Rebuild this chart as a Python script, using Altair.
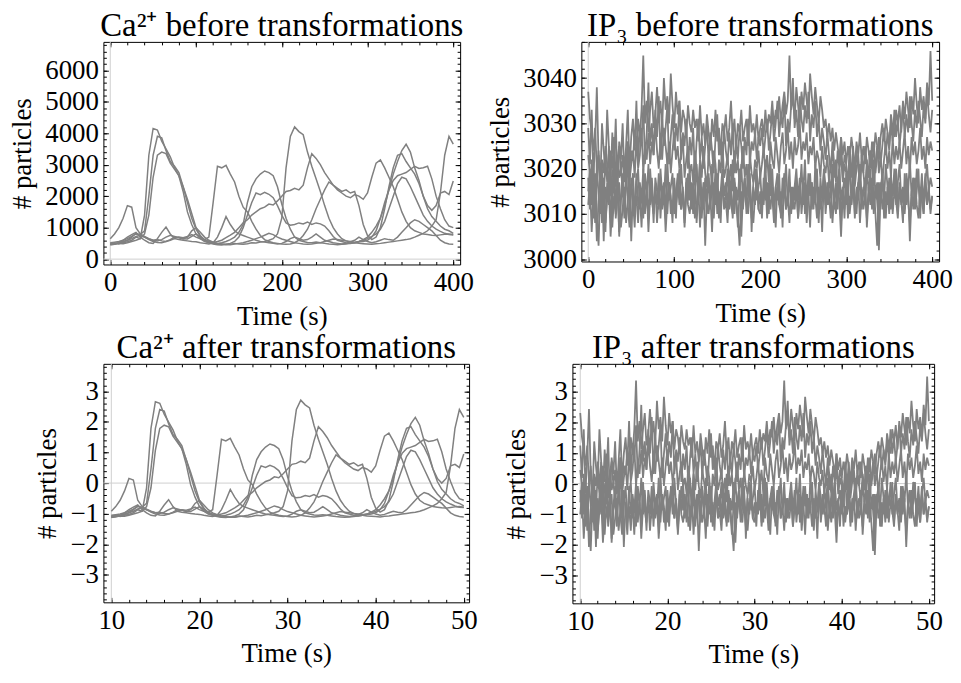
import altair as alt
import pandas as pd

FONT = "Liberation Serif"
GRAY = "#808080"
AXISLINE = "#cfcfcf"

# ---------------- Ca2+ traces (particles), sampled every 5 s ----------------
T_CA = list(range(0, 401, 5))
CA_1 = [470, 480, 500, 490, 520, 560, 600, 650, 1400, 3300,
        4150, 4100, 3750, 3500, 3250, 2900, 2650, 2150, 1500, 1100,
        800, 650, 560, 520, 500, 470, 480, 460, 470, 500,
        480, 470, 490, 520, 510, 540, 560, 600, 650, 800,
        1300, 2900, 3900, 4200, 4050, 3950, 3400, 2950, 2550, 2150,
        1700, 1300, 1000, 800, 650, 580, 540, 520, 500, 490,
        480, 470, 490, 500, 520, 540, 560, 580, 600, 620,
        650, 700, 760, 820, 900, 1050, 1250, 2100, 3300, 3900,
        3650]
CA_2 = [520, 540, 560, 600, 650, 720, 800, 780, 900, 2000,
        3300, 3900, 3850, 3450, 3100, 2950, 2750, 2300, 1800, 1300,
        950, 720, 620, 560, 530, 560, 600, 680, 760, 850,
        1000, 1150, 1250, 1400, 1500, 1600, 1650, 1750, 1720, 1850,
        2000, 2150, 2180, 2250, 2200, 2350, 2900, 3350, 3200, 3000,
        2750, 2550, 2350, 2200, 2100, 2000, 1950, 2050, 2000, 1900,
        2100, 2600, 3050, 3150, 2900, 2600, 2300, 1900, 1500, 1200,
        1000, 900, 850, 800, 780, 760, 750, 770, 790, 800,
        780]
CA_3 = [450, 470, 500, 520, 550, 600, 700, 650, 800, 1400,
        2600, 3300, 3400, 3350, 3050, 2850, 2650, 2300, 1900, 1450,
        1000, 750, 600, 520, 480, 460, 450, 470, 500, 560,
        700, 1000, 1400, 1800, 2100, 2050, 2120, 2060, 1950, 1700,
        1400, 1150, 1080, 1100, 1150, 1120, 1180, 1100, 1150, 1120,
        1050, 900, 720, 600, 560, 520, 500, 520, 540, 560,
        600, 700, 900, 1300, 1800, 2200, 2500, 2650, 2700, 2750,
        2850, 2950, 2880, 2900, 2950, 2550, 2000, 1600, 1250, 1050,
        1000]
CA_4 = [650, 800, 1000, 1300, 1700, 1650, 1000, 800, 720, 650,
        600, 620, 580, 560, 600, 650, 700, 680, 720, 780,
        700, 650, 620, 700, 1800, 2950, 2900, 2980, 2700, 2450,
        2000, 1650, 1500, 1200, 950, 750, 620, 560, 520, 500,
        480, 470, 480, 520, 600, 750, 950, 1250, 1600, 1900,
        2200, 2450, 2350, 2250, 2150, 2200, 2100, 2150, 1700, 1100,
        750, 620, 700, 1000, 1600, 2300, 2900, 3300, 3350, 3100,
        2900, 2700, 2400, 2000, 1700, 1550, 1700, 2100, 2150, 2050,
        2480]
CA_5 = [480, 500, 520, 560, 600, 700, 820, 760, 700, 620,
        560, 530, 520, 560, 620, 700, 690, 650, 640, 720,
        800, 700, 600, 550, 520, 500, 520, 560, 620, 700,
        850, 1100, 1800, 2300, 2550, 2700, 2800, 2750, 2650, 2300,
        1750, 1300, 950, 700, 600, 560, 530, 520, 540, 520,
        500, 480, 470, 460, 470, 480, 500, 520, 560, 620,
        700, 850, 1050, 1300, 1700, 2200, 2700, 3100, 3450, 3650,
        3400, 2900, 2500, 2000, 1600, 1350, 1200, 1050, 950, 900,
        820]
CA_6 = [470, 480, 520, 600, 700, 780, 850, 700, 600, 520,
        500, 650, 850, 1020, 800, 650, 620, 600, 580, 560,
        550, 520, 500, 480, 520, 700, 1000, 1350, 1100, 900,
        800, 750, 700, 650, 600, 560, 540, 520, 500, 480,
        500, 560, 650, 700, 650, 600, 620, 700, 800, 700,
        600, 560, 520, 500, 480, 500, 550, 600, 700, 620,
        560, 520, 550, 600, 650, 620, 600, 700, 850, 1000,
        1150, 1250, 1200, 1100, 1000, 900, 750, 600, 520, 480,
        470]
CA_7 = [500, 520, 480, 540, 600, 650, 720, 760, 700, 640,
        600, 580, 620, 700, 760, 720, 680, 640, 700, 900,
        1000, 850, 700, 600, 540, 500, 480, 470, 460, 480,
        500, 520, 560, 600, 650, 700, 760, 820, 780, 700,
        640, 600, 560, 520, 500, 480, 470, 480, 500, 520,
        560, 600, 640, 620, 600, 580, 560, 540, 560, 600,
        650, 720, 800, 950, 1200, 1600, 2000, 2400, 2600, 2550,
        2300, 2000, 1700, 1400, 1200, 1050, 950, 880, 820, 780,
        770]

# ---------------- IP3 traces (particles), sampled every 2 s ----------------
T_IP3 = list(range(0, 401, 2))
IP3_1 = [3037, 3031, 3028, 3024, 3029, 3020, 3023, 3017, 3022, 3019, 3025, 3021, 3016, 3024, 3020, 3027, 3018, 3022, 3025, 3019,
         3023, 3017, 3021, 3026, 3020, 3024, 3022, 3028, 3025, 3031, 3027, 3033, 3045, 3030, 3035, 3028, 3033, 3037, 3029, 3032,
         3038, 3031, 3035, 3029, 3040, 3033, 3036, 3030, 3041, 3034, 3029, 3037, 3032, 3035, 3028, 3033, 3031, 3027, 3034, 3030,
         3028, 3033, 3029, 3031, 3026, 3034, 3027, 3030, 3025, 3032, 3028, 3024, 3031, 3027, 3033, 3026, 3029, 3023, 3030, 3028,
         3032, 3026, 3029, 3035, 3027, 3031, 3024, 3030, 3028, 3033, 3026, 3029, 3031, 3025, 3034, 3028, 3030, 3027, 3032, 3026,
         3029, 3031, 3027, 3033, 3028, 3032, 3030, 3035, 3029, 3033, 3031, 3036, 3030, 3034, 3037, 3032, 3035, 3045, 3033, 3036,
         3031, 3038, 3034, 3030, 3037, 3033, 3039, 3035, 3031, 3041, 3036, 3032, 3038, 3034, 3030, 3036, 3033, 3029, 3031, 3027,
         3030, 3026, 3029, 3024, 3028, 3025, 3022, 3027, 3023, 3026, 3021, 3025, 3022, 3027, 3024, 3020, 3026, 3023, 3028, 3022,
         3025, 3021, 3027, 3024, 3020, 3026, 3023, 3028, 3025, 3022, 3027, 3030, 3026, 3031, 3028, 3025, 3032, 3029, 3027, 3033,
         3030, 3034, 3028, 3035, 3031, 3037, 3033, 3029, 3036, 3032, 3040, 3034, 3030, 3038, 3033, 3036, 3031, 3039, 3034, 3046,
         3035]
IP3_2 = [3023, 3019, 3015, 3021, 3012, 3018, 3024, 3016, 3020, 3013, 3022, 3017, 3025, 3014, 3019, 3021, 3016, 3023, 3018, 3020,
         3015, 3022, 3019, 3026, 3017, 3021, 3024, 3018, 3027, 3020, 3023, 3029, 3019, 3025, 3022, 3028, 3021, 3026, 3023, 3030,
         3024, 3020, 3027, 3022, 3029, 3025, 3021, 3026, 3019, 3024, 3028, 3022, 3025, 3020, 3023, 3027, 3018, 3022, 3025, 3019,
         3021, 3017, 3024, 3020, 3015, 3022, 3018, 3025, 3019, 3016, 3023, 3020, 3017, 3024, 3021, 3014, 3022, 3019, 3026, 3018,
         3020, 3023, 3017, 3021, 3015, 3024, 3019, 3022, 3016, 3020, 3025, 3018, 3021, 3014, 3023, 3019, 3017, 3022, 3020, 3024,
         3018, 3021, 3025, 3019, 3023, 3017, 3026, 3022, 3020, 3027, 3023, 3019, 3025, 3028, 3021, 3024, 3029, 3022, 3026, 3020,
         3027, 3023, 3025, 3030, 3022, 3026, 3024, 3028, 3021, 3025, 3023, 3027, 3020, 3024, 3022, 3018, 3025, 3021, 3019, 3023,
         3017, 3021, 3024, 3018, 3022, 3015, 3020, 3023, 3017, 3021, 3019, 3014, 3022, 3018, 3025, 3016, 3020, 3023, 3017, 3021,
         3019, 3015, 3022, 3018, 3024, 3020, 3016, 3021, 3025, 3019, 3023, 3017, 3022, 3026, 3020, 3024, 3018, 3027, 3021, 3025,
         3022, 3026, 3020, 3024, 3028, 3021, 3025, 3019, 3027, 3023, 3026, 3021, 3024, 3029, 3022, 3025, 3020, 3027, 3023, 3026,
         3024]
IP3_3 = [3018, 3011, 3022, 3009, 3016, 3004, 3013, 3019, 3008, 3015, 3006, 3017, 3012, 3020, 3007, 3014, 3010, 3018, 3005, 3013,
         3016, 3009, 3021, 3012, 3007, 3015, 3019, 3011, 3014, 3008, 3017, 3013, 3020, 3010, 3016, 3006, 3014, 3018, 3011, 3015,
         3012, 3019, 3009, 3016, 3013, 3021, 3010, 3017, 3014, 3008, 3018, 3012, 3015, 3020, 3011, 3016, 3007, 3014, 3019, 3013,
         3017, 3010, 3015, 3021, 3012, 3018, 3009, 3016, 3003, 3014, 3019, 3011, 3017, 3013, 3020, 3010, 3015, 3008, 3018, 3012,
         3014, 3020, 3011, 3016, 3009, 3018, 3013, 3007, 3015, 3021, 3012, 3017, 3010, 3014, 3019, 3006, 3016, 3012, 3020, 3011,
         3015, 3009, 3018, 3013, 3017, 3010, 3021, 3014, 3008, 3016, 3019, 3012, 3015, 3007, 3018, 3011, 3014, 3020, 3010, 3016,
         3013, 3018, 3009, 3015, 3021, 3012, 3017, 3008, 3014, 3019, 3011, 3016, 3013, 3020, 3010, 3015, 3006, 3018, 3012, 3017,
         3014, 3009, 3019, 3013, 3016, 3011, 3020, 3008, 3015, 3018, 3012, 3017, 3010, 3014, 3021, 3009, 3016, 3013, 3019, 3011,
         3015, 3018, 3007, 3014, 3020, 3012, 3016, 3010, 3003, 3017, 3013, 3019, 3009, 3015, 3012, 3018, 3011, 3016, 3014, 3020,
         3010, 3017, 3013, 3008, 3019, 3012, 3016, 3004, 3014, 3018, 3011, 3015, 3020, 3009, 3017, 3013, 3019, 3012, 3016, 3010,
         3014]
IP3_4 = [3015, 3020, 3012, 3017, 3008, 3021, 3014, 3010, 3018, 3004, 3016, 3013, 3019, 3009, 3015, 3022, 3011, 3017, 3006, 3014,
         3019, 3012, 3016, 3023, 3010, 3018, 3013, 3007, 3017, 3020, 3011, 3015, 3009, 3019, 3014, 3021, 3012, 3016, 3008, 3018,
         3015, 3011, 3020, 3014, 3017, 3009, 3022, 3013, 3016, 3019, 3010, 3015, 3018, 3012, 3021, 3014, 3009, 3017, 3013, 3020,
         3011, 3016, 3019, 3008, 3014, 3022, 3012, 3017, 3015, 3010, 3018, 3013, 3021, 3009, 3016, 3019, 3012, 3015, 3020, 3014,
         3017, 3011, 3019, 3014, 3022, 3010, 3016, 3013, 3020, 3005, 3015, 3018, 3012, 3021, 3014, 3009, 3017, 3020, 3013, 3016,
         3019, 3012, 3015, 3022, 3010, 3017, 3014, 3020, 3011, 3016, 3013, 3019, 3009, 3018, 3015, 3021, 3012, 3017, 3014, 3011,
         3016, 3020, 3013, 3018, 3010, 3015, 3022, 3012, 3019, 3014, 3017, 3011, 3021, 3015, 3008, 3018, 3013, 3020, 3016, 3012,
         3018, 3015, 3021, 3011, 3017, 3014, 3020, 3013, 3016, 3009, 3019, 3015, 3022, 3012, 3018, 3014, 3010, 3017, 3021, 3013,
         3016, 3012, 3020, 3015, 3018, 3011, 3022, 3014, 3017, 3002, 3015, 3019, 3013, 3021, 3016, 3010, 3018, 3014, 3020, 3012,
         3017, 3021, 3013, 3016, 3011, 3019, 3015, 3022, 3014, 3018, 3012, 3020, 3016, 3013, 3019, 3010, 3017, 3021, 3015, 3018,
         3016]
IP3_5 = [3012, 3017, 3006, 3014, 3019, 3010, 3003, 3015, 3011, 3018, 3008, 3013, 3016, 3005, 3012, 3019, 3009, 3014, 3017, 3007,
         3011, 3016, 3008, 3013, 3018, 3004, 3015, 3010, 3019, 3012, 3014, 3007, 3017, 3011, 3015, 3009, 3020, 3013, 3010, 3016,
         3008, 3014, 3018, 3011, 3015, 3006, 3013, 3017, 3010, 3012, 3016, 3009, 3019, 3014, 3011, 3015, 3008, 3018, 3012, 3010,
         3014, 3017, 3009, 3012, 3016, 3007, 3015, 3011, 3018, 3013, 3010, 3014, 3006, 3017, 3012, 3015, 3009, 3013, 3016, 3011,
         3013, 3008, 3016, 3012, 3010, 3017, 3014, 3009, 3003, 3015, 3011, 3018, 3013, 3010, 3016, 3012, 3008, 3014, 3017, 3011,
         3010, 3015, 3012, 3018, 3009, 3014, 3011, 3016, 3013, 3007, 3017, 3012, 3010, 3015, 3019, 3011, 3014, 3008, 3016, 3013,
         3011, 3016, 3009, 3014, 3012, 3018, 3010, 3013, 3015, 3007, 3017, 3012, 3014, 3009, 3016, 3011, 3013, 3019, 3010, 3015,
         3012, 3017, 3008, 3014, 3010, 3016, 3013, 3005, 3015, 3011, 3018, 3009, 3014, 3012, 3016, 3010, 3013, 3017, 3008, 3015,
         3011, 3014, 3009, 3016, 3012, 3018, 3010, 3015, 3013, 3007, 3017, 3011, 3014, 3009, 3016, 3012, 3019, 3010, 3015, 3013,
         3009, 3016, 3012, 3014, 3010, 3017, 3013, 3008, 3015, 3011, 3018, 3012, 3009, 3016, 3013, 3010, 3017, 3012, 3015, 3011,
         3014]
IP3_6 = [3029, 3021, 3033, 3018, 3026, 3038, 3022, 3016, 3030, 3024, 3019, 3033, 3025, 3017, 3028, 3021, 3031, 3015, 3026, 3022,
         3030, 3018, 3025, 3033, 3020, 3027, 3031, 3024, 3035, 3022, 3029, 3026, 3034, 3021, 3028, 3039, 3025, 3030, 3023, 3033,
         3027, 3036, 3022, 3031, 3025, 3029, 3034, 3021, 3027, 3032, 3024, 3030, 3026, 3035, 3022, 3028, 3025, 3031, 3020, 3027,
         3023, 3029, 3019, 3026, 3031, 3022, 3027, 3020, 3025, 3030, 3021, 3028, 3024, 3019, 3027, 3032, 3023, 3026, 3020, 3029,
         3024, 3021, 3028, 3023, 3030, 3019, 3026, 3022, 3029, 3025, 3020, 3027, 3023, 3031, 3021, 3026, 3024, 3028, 3022, 3027,
         3025, 3029, 3023, 3027, 3031, 3024, 3028, 3033, 3026, 3030, 3035, 3027, 3032, 3029, 3036, 3025, 3031, 3028, 3034, 3040,
         3029, 3033, 3027, 3036, 3031, 3028, 3034, 3030, 3037, 3026, 3032, 3029, 3035, 3027, 3031, 3024, 3029, 3026, 3022, 3028,
         3023, 3019, 3026, 3021, 3017, 3024, 3020, 3027, 3018, 3023, 3021, 3016, 3025, 3019, 3022, 3018, 3024, 3020, 3017, 3023,
         3019, 3025, 3021, 3018, 3024, 3020, 3026, 3019, 3023, 3027, 3021, 3025, 3029, 3023, 3028, 3024, 3030, 3026, 3033, 3027,
         3031, 3025, 3029, 3034, 3027, 3032, 3028, 3036, 3030, 3026, 3033, 3029, 3035, 3031, 3027, 3034, 3030, 3037, 3032, 3028,
         3033]

# "after transformations": time rescaled to 10..50 s, counts standardised
CA_MEAN, CA_SD = 1550, 977
IP3_MEAN, IP3_SD = 3019.6, 7.57

# ---------------- ticks ----------------
CA_X_MAJOR = [0, 100, 200, 300, 400]
CA_X_MINOR = list(range(0, 401, 20))
CA_Y_MAJOR = [0, 1000, 2000, 3000, 4000, 5000, 6000]
CA_Y_MINOR = list(range(0, 6801, 200))
IP3_Y_MAJOR = [3000, 3010, 3020, 3030, 3040]
IP3_Y_MINOR = list(range(3000, 3049, 2))
Z_X_MAJOR = [10, 20, 30, 40, 50]
Z_X_MINOR = list(range(10, 51, 2))
Z_Y_MAJOR = [-3, -2, -1, 0, 1, 2, 3]
Z_Y_MINOR = [round(-3.8 + 0.2 * i, 1) for i in range(39)]

MAJ, MINR = 5, 3


def to_long(t, traces):
    rows = []
    for k, tr in enumerate(traces):
        for ti, v in zip(t, tr):
            rows.append({"t": ti, "v": v, "trace": k})
    return pd.DataFrame(rows)


ca_df = to_long(T_CA, [CA_1, CA_2, CA_3, CA_4, CA_5, CA_6, CA_7])
ip3_df = to_long(T_IP3, [IP3_1, IP3_2, IP3_3, IP3_4, IP3_5, IP3_6])


def panel(df, xf, yf, xdom, ydom, xmaj, xmin, ymaj, ymin, title, w, h,
          xline=None, yline=None, calc=None, sw=1.5):
    xs = alt.Scale(domain=xdom, nice=False, zero=False)
    ys = alt.Scale(domain=ydom, nice=False, zero=False)
    base = alt.Chart(df)
    if calc:
        base = base.transform_calculate(**calc)
    lines = base.mark_line(color=GRAY, strokeWidth=sw, clip=True).encode(
        x=alt.X(f"{xf}:Q", scale=xs,
                axis=alt.Axis(orient="bottom", values=xmaj, tickSize=MAJ, offset=-MAJ,
                              labelPadding=5, format="d", title="Time (s)", titlePadding=8)),
        y=alt.Y(f"{yf}:Q", scale=ys,
                axis=alt.Axis(orient="left", values=ymaj, tickSize=MAJ, offset=-MAJ,
                              labelPadding=5, format="d", title="# particles", titlePadding=8)),
        detail="trace:N",
    )
    layers = []
    if yline is not None:
        layers.append(alt.Chart(pd.DataFrame({"y0": [yline]})).mark_rule(
            color=AXISLINE, strokeWidth=1).encode(y=alt.Y("y0:Q", scale=ys, axis=None)))
    if xline is not None:
        layers.append(alt.Chart(pd.DataFrame({"x0": [xline]})).mark_rule(
            color=AXISLINE, strokeWidth=1).encode(x=alt.X("x0:Q", scale=xs, axis=None)))
    layers.append(lines)
    helper = pd.DataFrame({"hx": [xdom[0]], "hy": [ydom[0]]})

    def tick_layer(xo, xv, xsz, yo, yv, ysz):
        return alt.Chart(helper).mark_point(opacity=0).encode(
            x=alt.X("hx:Q", scale=xs,
                    axis=alt.Axis(orient=xo, values=xv, tickSize=xsz, offset=-xsz,
                                  labels=False, title=None, minExtent=0)),
            y=alt.Y("hy:Q", scale=ys,
                    axis=alt.Axis(orient=yo, values=yv, tickSize=ysz, offset=-ysz,
                                  labels=False, title=None, minExtent=0)),
        )

    layers.append(tick_layer("bottom", xmin, MINR, "left", ymin, MINR))
    layers.append(tick_layer("top", xmaj, MAJ, "right", ymaj, MAJ))
    layers.append(tick_layer("top", xmin, MINR, "right", ymin, MINR))
    return alt.layer(*layers).resolve_axis(x="independent", y="independent").properties(
        width=w, height=h,
        title=alt.TitleParams(text=title, font=FONT, fontSize=33, fontWeight="normal",
                              color="black", anchor="middle", frame="group", offset=-2),
    )


tl = panel(ca_df, "t", "v", [-8, 408], [-170, 6900], CA_X_MAJOR, CA_X_MINOR,
           CA_Y_MAJOR, CA_Y_MINOR, "Ca²⁺ before transformations", 359, 224,
           xline=0, yline=0)
tr = panel(ip3_df, "t", "v", [-8, 408], [2999.5, 3048], CA_X_MAJOR, CA_X_MINOR,
           IP3_Y_MAJOR, IP3_Y_MINOR, "IP₃ before transformations", 360, 221,
           xline=0, sw=1.8)
bl = panel(ca_df, "tt", "zz", [9.1, 50.6], [-3.9, 3.9], Z_X_MAJOR, Z_X_MINOR,
           Z_Y_MAJOR, Z_Y_MINOR, "Ca²⁺ after transformations", 368, 240,
           xline=10, yline=0,
           calc={"tt": "10 + datum.t / 10", "zz": f"(datum.v - {CA_MEAN}) / {CA_SD}"})
br = panel(ip3_df, "tt", "zz", [9.1, 50.6], [-3.9, 3.9], Z_X_MAJOR, Z_X_MINOR,
           Z_Y_MAJOR, Z_Y_MINOR, "IP₃ after transformations", 364, 241,
           xline=10, yline=0, sw=1.8,
           calc={"tt": "10 + datum.t / 10", "zz": f"(datum.v - {IP3_MEAN}) / {IP3_SD}"})

chart = alt.vconcat(
    alt.hconcat(tl, tr, spacing=12),
    alt.hconcat(bl, br, spacing=24),
    spacing=2,
).properties(
    padding={"left": 0, "top": 0, "right": 0, "bottom": 0},
    background="white",
).configure_view(
    stroke="black", strokeWidth=1,
).configure_axis(
    labelFont=FONT, labelFontSize=27, labelColor="black",
    titleFont=FONT, titleFontSize=27, titleFontWeight="normal", titleColor="black",
    tickColor="black", tickWidth=1, domain=False, grid=False,
)

chart.save("out.html", embed_options={"renderer": "svg", "actions": False})
